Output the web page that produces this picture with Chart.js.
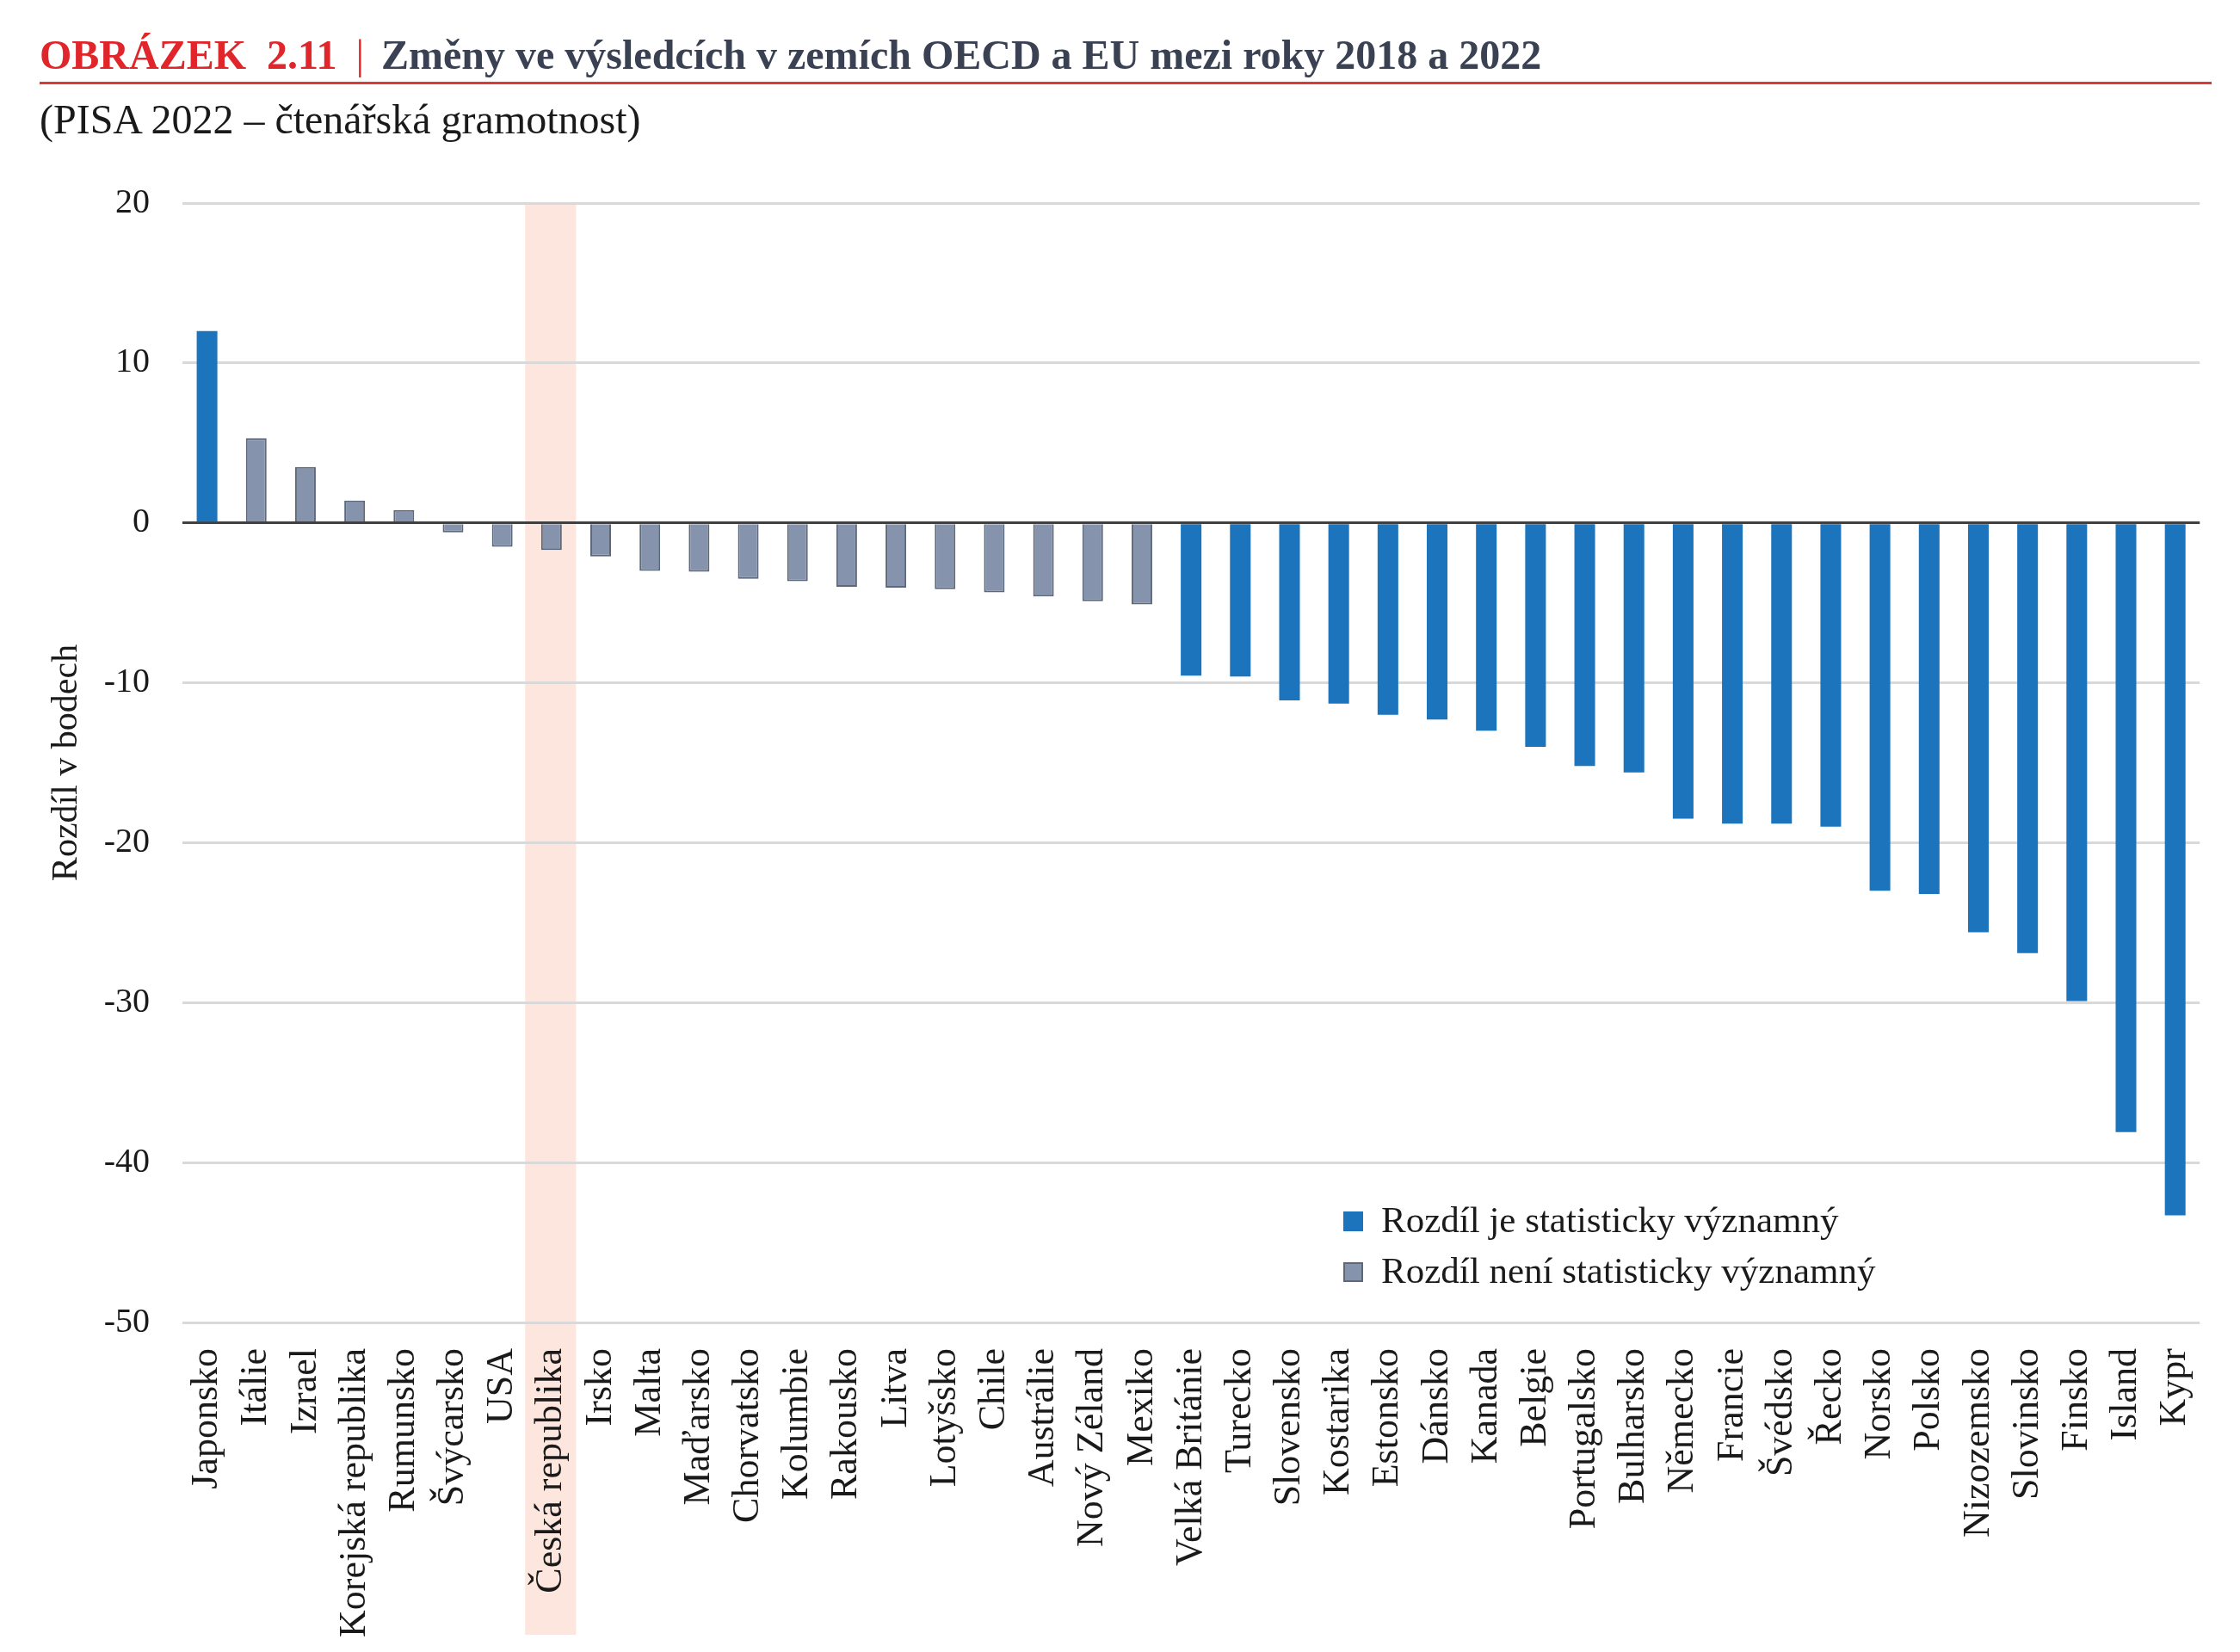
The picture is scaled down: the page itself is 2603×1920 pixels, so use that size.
<!DOCTYPE html>
<html>
<head>
<meta charset="utf-8">
<script src="https://cdn.jsdelivr.net/npm/chart.js@4.4.1/dist/chart.umd.min.js"></script>
<style>
  html, body { margin: 0; padding: 0; background: #fff; }
  #wrap { position: relative; width: 2603px; height: 1920px; }
  #title { position: absolute; left: 46px; top: 40px; font: bold 48px "Liberation Serif"; line-height: 48px; color: #3a4152; white-space: nowrap; }
  #title .num { color: #e0262b; }
  #title .sep { color: #e0262b; font-weight: normal; margin: 0 20px 0 22px; }
  #rule { position: absolute; left: 46px; top: 95px; width: 2524px; height: 3px; background: #dc3a34; }
  #subtitle { position: absolute; left: 46px; top: 115px; font: 48px "Liberation Serif"; line-height: 48px; color: #1a1a1a; white-space: nowrap; }
  canvas { position: absolute; left: 0; top: 0; }
</style>
</head>
<body>
<div id="wrap">
  <canvas id="myChart" width="2603" height="1920"></canvas>
  <div id="title"><span class="num">OBRÁZEK&nbsp; 2.11</span><span class="sep">|</span>Změny ve výsledcích v zemích OECD a EU mezi roky 2018 a 2022</div>
  <div id="rule"></div>
  <div id="subtitle">(PISA 2022 – čtenářská gramotnost)</div>
</div>
<script>
const countries = ['Japonsko', 'Itálie', 'Izrael', 'Korejská republika', 'Rumunsko', 'Švýcarsko', 'USA',
  'Česká republika', 'Irsko', 'Malta', 'Maďarsko', 'Chorvatsko', 'Kolumbie', 'Rakousko', 'Litva',
  'Lotyšsko', 'Chile', 'Austrálie', 'Nový Zéland', 'Mexiko', 'Velká Británie', 'Turecko', 'Slovensko',
  'Kostarika', 'Estonsko', 'Dánsko', 'Kanada', 'Belgie', 'Portugalsko', 'Bulharsko', 'Německo',
  'Francie', 'Švédsko', 'Řecko', 'Norsko', 'Polsko', 'Nizozemsko', 'Slovinsko', 'Finsko', 'Island', 'Kypr'];

const diff = [12.0, 5.3, 3.5, 1.4, 0.8, -0.6, -1.5, -1.7, -2.1, -3.0, -3.05, -3.5, -3.65, -4.0, -4.05,
  -4.15, -4.35, -4.6, -4.9, -5.1, -9.55, -9.6, -11.1, -11.3, -12.0, -12.3, -13.0, -14.0, -15.2, -15.6,
  -18.5, -18.8, -18.8, -19.0, -23.0, -23.2, -25.6, -26.9, -29.9, -38.1, -43.3];

// 1 = rozdil je statisticky vyznamny
const significant = [1, 0, 0, 0, 0, 0, 0, 0, 0, 0, 0, 0, 0, 0, 0, 0, 0, 0, 0, 0,
  1, 1, 1, 1, 1, 1, 1, 1, 1, 1, 1, 1, 1, 1, 1, 1, 1, 1, 1, 1, 1];

const seriesLabels = ['Rozdíl je statisticky významný', 'Rozdíl není statisticky významný'];
const yMin = -50;
const yMax = 20;
const yStep = 10;
const highlighted = 'Česká republika';

const serif = '"Liberation Serif", "Times New Roman", serif';

const highlightBand = {
  id: 'highlightBand',
  beforeDraw(chart) {
    const x = chart.scales.x;
    const i = countries.indexOf(highlighted);
    const w = x.getPixelForValue(1) - x.getPixelForValue(0);
    const cx = x.getPixelForValue(i);
    const ctx = chart.ctx;
    ctx.save();
    ctx.fillStyle = '#fde6de';
    ctx.fillRect(cx - w / 2 - 2, chart.chartArea.top, w + 2, 1900 - chart.chartArea.top);
    ctx.restore();
  }
};

const insideLegend = {
  id: 'insideLegend',
  afterDraw(chart) {
    const ctx = chart.ctx;
    ctx.save();
    chart.data.datasets.forEach((ds, i) => {
      const y = 1419 + i * 59;
      ctx.fillStyle = ds.backgroundColor;
      ctx.fillRect(1561, y - 11, 23, 23);
      if (ds.borderWidth) {
        ctx.strokeStyle = ds.borderColor;
        ctx.lineWidth = 2;
        ctx.strokeRect(1562, y - 10, 21, 21);
      }
      ctx.fillStyle = '#1a1a1a';
      ctx.font = '43px ' + serif;
      ctx.textBaseline = 'middle';
      ctx.fillText(ds.label, 1605, y + 2);
    });
    ctx.restore();
  }
};

const ctx = document.getElementById('myChart');

new Chart(ctx, {
  type: 'bar',
  data: {
    labels: countries,
    datasets: [
      {
        label: seriesLabels[0],
        data: diff.map((v, i) => significant[i] ? v : null),
        backgroundColor: '#1b74bc',
        borderWidth: 0,
        barPercentage: 0.42,
        categoryPercentage: 1.0
      },
      {
        label: seriesLabels[1],
        data: diff.map((v, i) => significant[i] ? null : v),
        backgroundColor: '#8593ac',
        borderColor: '#5d687a',
        borderWidth: 2,
        barPercentage: 0.42,
        categoryPercentage: 1.0
      }
    ]
  },
  options: {
    responsive: false,
    animation: false,
    devicePixelRatio: 1,
    layout: { padding: { top: 236, left: 0, right: 43, bottom: 0 } },
    plugins: {
      legend: { display: false },
      tooltip: { enabled: false }
    },
    scales: {
      x: {
        stacked: true,
        grid: { display: false },
        border: { display: false },
        ticks: {
          autoSkip: false,
          minRotation: 90,
          maxRotation: 90,
          padding: 22,
          color: '#1a1a1a',
          font: { family: serif, size: 44 }
        },
        afterFit(scale) { scale.height = 383; }
      },
      y: {
        stacked: true,
        min: yMin,
        max: yMax,
        border: { display: false },
        grid: {
          drawTicks: false,
          lineWidth: 3,
          color: c => c.tick.value === 0 ? '#404040' : '#d9d9d9'
        },
        ticks: {
          stepSize: yStep,
          padding: 38,
          color: '#1a1a1a',
          font: { family: serif, size: 40 },
          callback: v => String(v)
        },
        title: {
          display: true,
          text: 'Rozdíl v bodech',
          color: '#1a1a1a',
          font: { family: serif, size: 42 },
          padding: { top: 53, bottom: 0 }
        },
        afterFit(scale) { scale.width = 212; }
      }
    }
  },
  plugins: [highlightBand, insideLegend]
});
</script>
</body>
</html>
